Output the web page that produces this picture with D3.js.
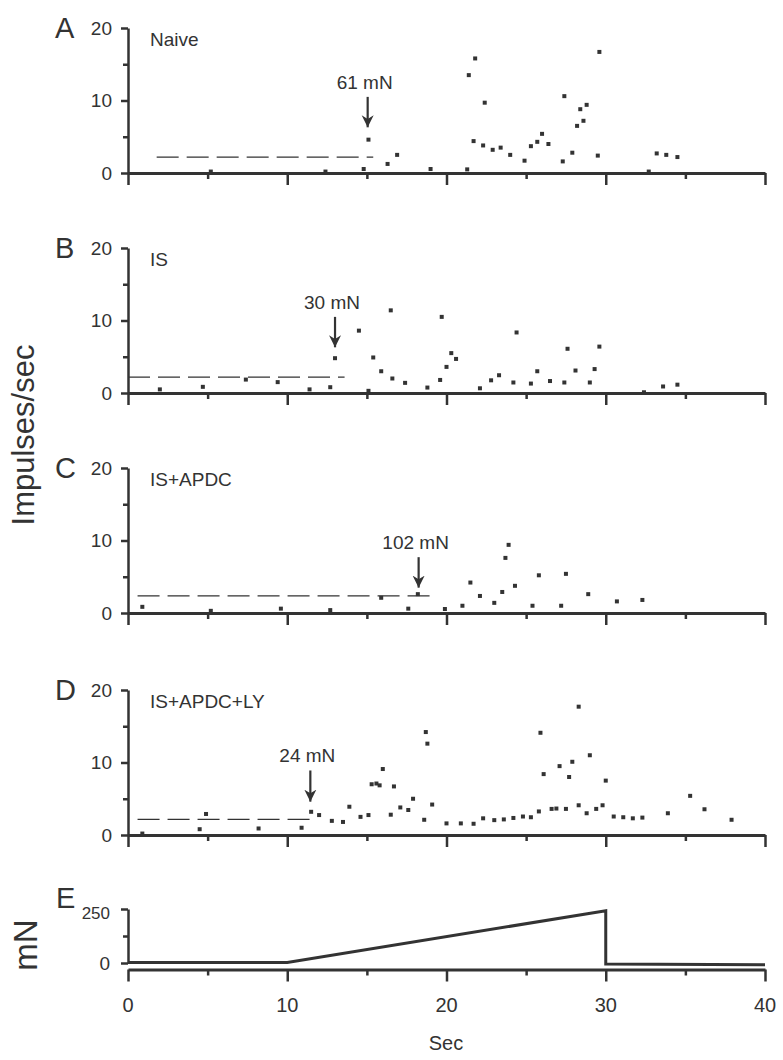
<!DOCTYPE html>
<html>
<head>
<meta charset="utf-8">
<script src="https://cdn.jsdelivr.net/npm/d3@7"></script>
<style>
  html, body { margin: 0; padding: 0; background: #fff; }
  svg { display: block; }
  text { font-family: "Liberation Sans", Arial, sans-serif; fill: #333; }
</style>
</head>
<body>
<svg id="chart" width="783" height="1060"></svg>
<script>
// ---------- DATA ----------
const panelLetters = ["A", "B", "C", "D"];
const panelNames = ["Naive", "IS", "IS+APDC", "IS+APDC+LY"];
const yTickLabels = [0, 10, 20];
const xTickLabels = [0, 10, 20, 30, 40];
const forceTickLabels = [0, 250];

// [time (s), impulses/sec]
const naivePoints = [
  [5.2,0.2],[12.4,0.2],[14.8,0.55],[15.1,4.6],[16.3,1.25],[16.9,2.5],[19.0,0.55],
  [21.3,0.5],[21.4,13.5],[21.8,15.8],[21.7,4.4],[22.3,3.8],[22.4,9.7],[22.9,3.2],
  [23.4,3.5],[24.0,2.5],[24.9,1.7],[25.3,3.7],[25.7,4.3],[26.0,5.4],[26.4,4.0],
  [27.3,1.6],[27.4,10.6],[27.9,2.8],[28.2,6.5],[28.4,8.8],[28.6,7.2],[28.8,9.4],
  [29.5,2.4],[29.6,16.7],[32.7,0.2],[33.2,2.7],[33.8,2.5],[34.5,2.2]
];
const isPoints = [
  [2.0,0.5],[4.7,0.85],[7.4,1.85],[9.4,1.5],[11.4,0.5],[12.7,0.8],[13.0,4.8],
  [14.5,8.6],[15.1,0.3],[15.4,4.9],[15.9,3.0],[16.5,11.4],[16.6,2.0],[17.4,1.4],
  [18.8,0.75],[19.6,1.8],[19.7,10.5],[20.0,3.6],[20.3,5.5],[20.6,4.7],[22.1,0.65],
  [22.8,1.75],[23.3,2.45],[24.2,1.45],[24.4,8.35],[25.3,1.3],[25.7,3.0],[26.5,1.65],
  [27.4,1.45],[27.6,6.1],[28.1,3.1],[29.0,1.45],[29.3,3.3],[29.6,6.4],[32.4,0.1],
  [33.6,0.9],[34.5,1.15]
];
const apdcPoints = [
  [0.9,0.85],[5.2,0.3],[9.6,0.6],[12.7,0.4],[15.9,2.1],[17.6,0.6],[18.2,2.6],
  [19.9,0.55],[21.0,1.0],[21.5,4.2],[22.1,2.35],[23.0,1.4],[23.5,2.9],[23.7,7.6],
  [23.9,9.4],[24.3,3.75],[25.4,1.0],[25.8,5.2],[27.2,1.0],[27.5,5.4],[28.9,2.6],
  [30.7,1.6],[32.3,1.8]
];
const lyPoints = [
  [0.9,0.2],[4.5,0.8],[4.9,2.9],[8.2,0.9],[10.9,1.0],[11.5,3.2],[12.0,2.75],
  [12.8,1.95],[13.5,1.8],[13.9,3.9],[14.6,2.5],[15.1,2.75],[15.3,7.0],[15.6,7.1],
  [15.8,6.85],[16.0,9.1],[16.5,2.8],[16.7,6.7],[17.1,3.8],[17.6,3.45],[17.9,5.0],
  [18.6,2.1],[18.7,14.2],[18.8,12.6],[19.1,4.2],[20.0,1.6],[20.9,1.6],[21.7,1.55],
  [22.3,2.3],[23.0,2.05],[23.6,2.15],[24.2,2.35],[24.8,2.55],[25.3,2.45],[25.8,3.25],
  [25.9,14.1],[26.1,8.4],[26.6,3.6],[26.9,3.65],[27.1,9.5],[27.5,3.6],[27.7,8.0],
  [27.9,10.1],[28.3,4.1],[28.3,17.7],[28.8,3.0],[29.0,11.0],[29.4,3.6],[29.8,4.1],
  [30.0,7.5],[30.5,2.55],[31.1,2.45],[31.7,2.3],[32.3,2.4],[33.9,3.0],[35.3,5.4],
  [36.2,3.55],[37.9,2.1]
];
const panelPoints = [naivePoints, isPoints, apdcPoints, lyPoints];

// baseline (dashed) : [start time, end time, level]
const baselines = [[1.8, 15.4, 2.2], [0, 13.6, 2.2], [0.6, 19.0, 2.35], [0.6, 11.5, 2.15]];
// threshold arrows: [time, top value, tip value]
const arrowTimes = [15.05, 13.0, 18.25, 11.45];
const arrowTops = [10.5, 10.5, 7.7, 8.9];
const arrowTips = [6.3, 6.3, 3.5, 4.6];
const arrowLabels = ["61 mN", "30 mN", "102 mN", "24 mN"];

// force ramp (panel E): [time, mN]
const forceT = [0, 10, 30, 30, 40];
const forceV = [2, 2, 242, -5, -8];

// ---------- LAYOUT ----------
const svg = d3.select("#chart");
const ink = "#333";
const x = d3.scaleLinear().domain([0, 40]).range([128, 765]);
const panelZero = [173, 393, 613, 835];
const panelHeight = 145;

svg.append("defs").append("marker")
  .attr("id", "ah").attr("viewBox", "0 0 10 10")
  .attr("refX", 10).attr("refY", 5)
  .attr("markerWidth", 12).attr("markerHeight", 15)
  .attr("markerUnits", "userSpaceOnUse")
  .attr("orient", "auto")
  .append("path").attr("d", "M0,0 L10,5 L0,10 L3,5 Z").attr("fill", ink);

function drawXAxis(g, yPos) {
  const ax = d3.axisBottom(x).tickValues(d3.range(0, 41, 5)).tickFormat("")
    .tickSizeOuter(0).tickSizeInner(6);
  const gA = g.append("g").attr("transform", `translate(0,${yPos})`).call(ax);
  gA.select(".domain").attr("stroke", ink).attr("stroke-width", 3);
  gA.selectAll(".tick line").attr("stroke", ink).attr("stroke-width", 2.5)
    .attr("y2", d => d % 10 === 0 ? 12 : 6);
  return gA;
}

panelPoints.forEach((pts, i) => {
  const y0 = panelZero[i];
  const y = d3.scaleLinear().domain([0, 20]).range([y0, y0 - panelHeight]);
  const g = svg.append("g");

  // y axis
  const ay = d3.axisLeft(y).tickValues([0, 5, 10, 15, 20])
    .tickFormat(d => yTickLabels.includes(d) ? d : "")
    .tickSizeOuter(0).tickSizeInner(5).tickPadding(11);
  const gy = g.append("g").attr("transform", `translate(${x(0)},0)`).call(ay);
  gy.select(".domain").attr("stroke", ink).attr("stroke-width", 2.5);
  gy.selectAll(".tick line").attr("stroke", ink).attr("stroke-width", 2.5)
    .attr("x2", d => d % 10 === 0 ? -7 : -5);
  gy.selectAll(".tick text").style("font-size", "19px")
    .style("font-family", '"Liberation Sans", Arial, sans-serif').attr("fill", ink);

  drawXAxis(g, y0);

  // baseline dashed line
  const b = baselines[i];
  g.append("line")
    .attr("x1", x(b[0])).attr("x2", x(b[1]))
    .attr("y1", y(b[2])).attr("y2", y(b[2]))
    .attr("stroke", ink).attr("stroke-width", 1.3)
    .attr("stroke-dasharray", "22,8");

  // points
  g.selectAll("rect.pt").data(pts).join("rect")
    .attr("class", "pt")
    .attr("x", d => x(d[0]) - 2).attr("y", d => y(d[1]) - 2)
    .attr("width", 4).attr("height", 4).attr("fill", ink);

  // arrow
  g.append("line")
    .attr("x1", x(arrowTimes[i])).attr("x2", x(arrowTimes[i]))
    .attr("y1", y(arrowTops[i])).attr("y2", y(arrowTips[i]))
    .attr("stroke", ink).attr("stroke-width", 2.2)
    .attr("marker-end", "url(#ah)");
  g.append("text")
    .attr("x", x(arrowTimes[i]) - 3).attr("y", y(arrowTops[i]) - 8)
    .attr("text-anchor", "middle").style("font-size", "19px")
    .text(arrowLabels[i]);

  // panel name
  g.append("text").attr("x", 150).attr("y", y(18.5) + 7)
    .style("font-size", "19px").text(panelNames[i]);

  // panel letter
  g.append("text").attr("x", 55).attr("y", y(20) + 10)
    .style("font-size", "29px").text(panelLetters[i]);
});

// ---------- Panel E ----------
const yE = d3.scaleLinear().domain([0, 250]).range([963, 909]);
const gE = svg.append("g");
const ayE = d3.axisLeft(yE).tickValues([0, 125, 250])
  .tickFormat(d => forceTickLabels.includes(d) ? d : "")
  .tickSizeOuter(0).tickSizeInner(5).tickPadding(13);
const gyE = gE.append("g").attr("transform", `translate(${x(0)},0)`).call(ayE);
gyE.select(".domain").attr("stroke", ink).attr("stroke-width", 2.5);
gyE.selectAll(".tick line").attr("stroke", ink).attr("stroke-width", 2.5)
  .attr("x2", d => d === 125 ? -5 : -7);
gyE.selectAll(".tick text")
  .style("font-size", d => d === 250 ? "17px" : "19px")
  .attr("dy", d => d === 250 ? "0.55em" : "0.32em")
  .style("font-family", '"Liberation Sans", Arial, sans-serif').attr("fill", ink);

const gxE = drawXAxis(gE, 969.5);
gxE.selectAll(".tick text").remove();
gE.selectAll("text.xl").data(xTickLabels).join("text")
  .attr("class", "xl")
  .attr("x", d => x(d)).attr("y", 1012)
  .attr("text-anchor", "middle").style("font-size", "20px")
  .text(d => d);

const forceLine = d3.line().x((d, i) => x(forceT[i])).y((d, i) => yE(forceV[i]));
gE.append("path").datum(forceT)
  .attr("d", forceLine)
  .attr("fill", "none").attr("stroke", ink).attr("stroke-width", 3)
  .attr("stroke-linejoin", "miter");

gE.append("text").attr("x", 56).attr("y", 908)
  .style("font-size", "29px").text("E");

svg.append("text").attr("x", 446).attr("y", 1050)
  .attr("text-anchor", "middle").style("font-size", "20px").text("Sec");

// Y titles
svg.append("text")
  .attr("transform", "translate(34,435) rotate(-90)")
  .attr("text-anchor", "middle").style("font-size", "31px").text("Impulses/sec");
svg.append("text")
  .attr("transform", "translate(37,945) rotate(-90)")
  .attr("text-anchor", "middle").style("font-size", "33px").text("mN");
</script>
</body>
</html>
